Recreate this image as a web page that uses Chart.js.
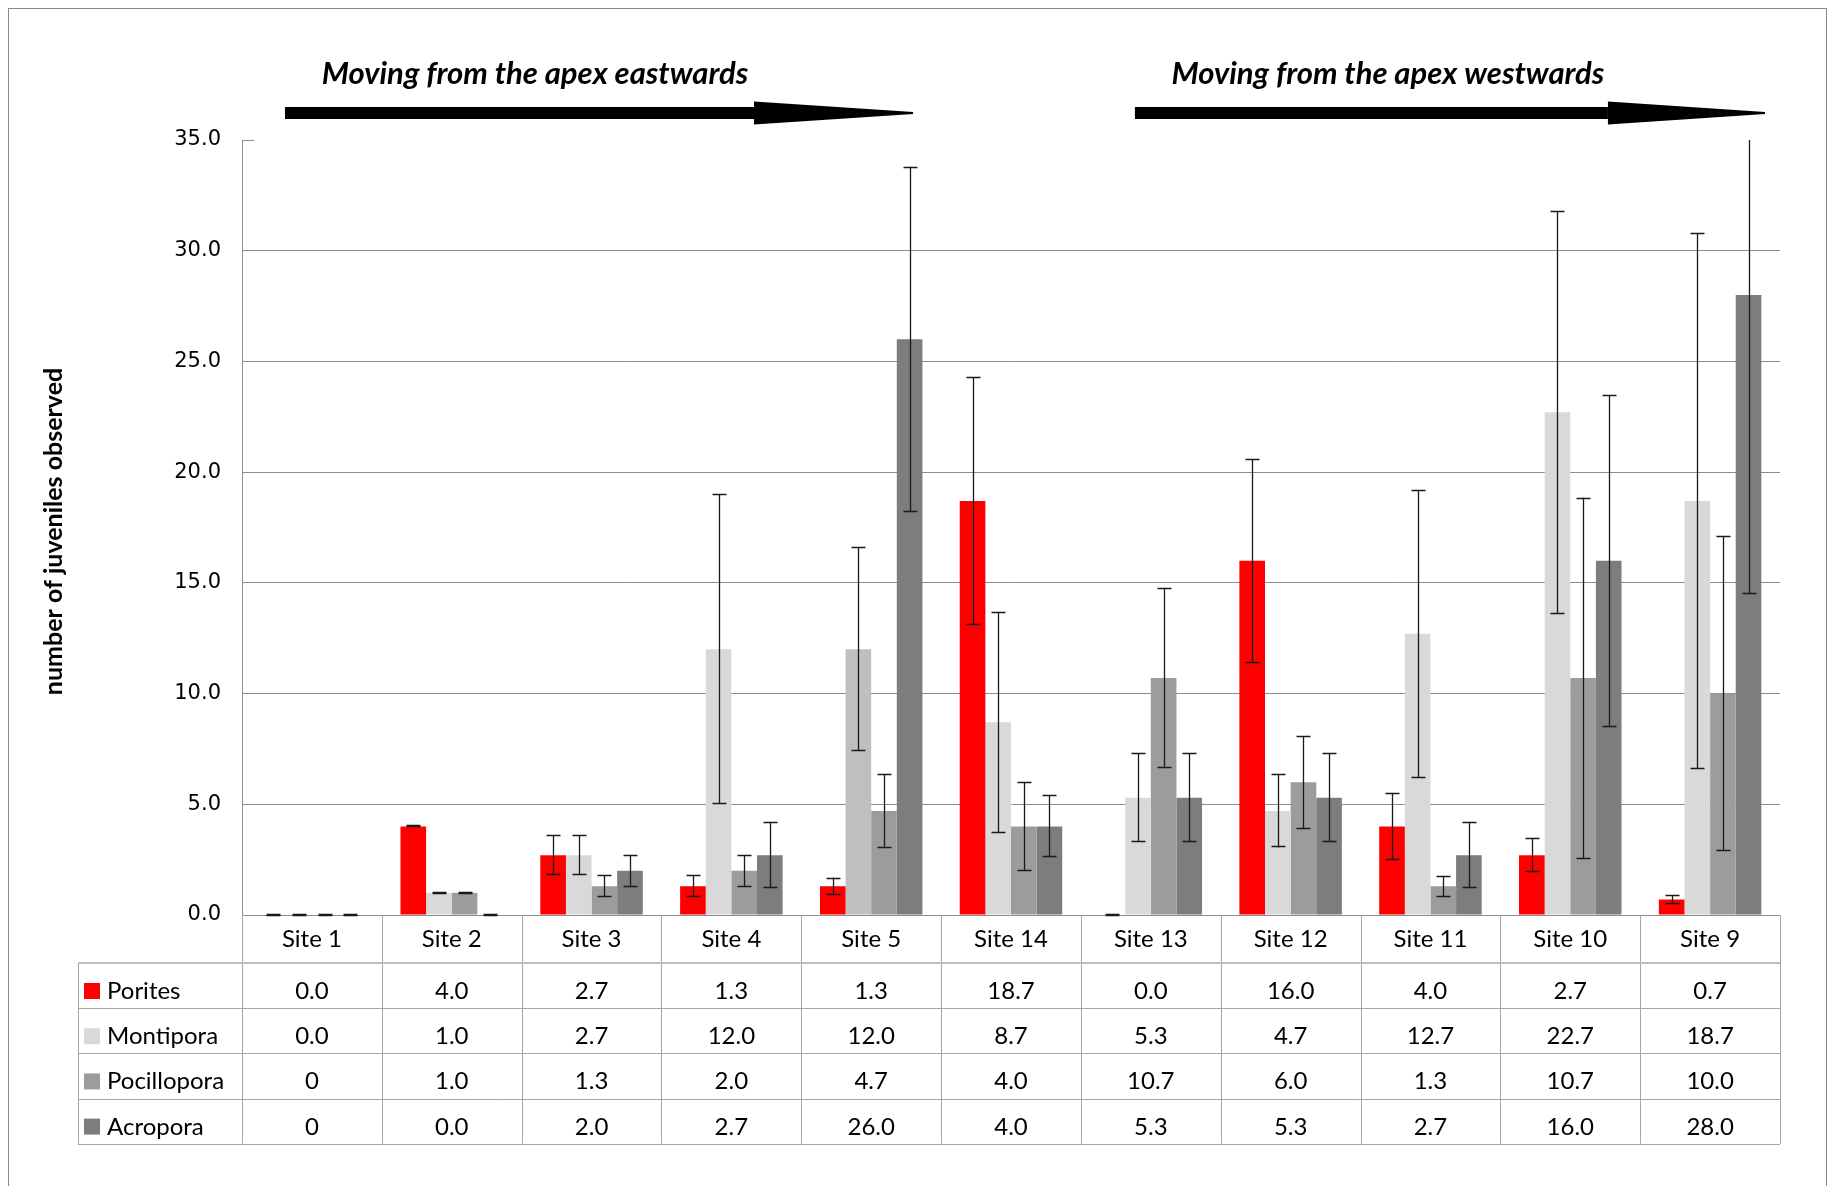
<!DOCTYPE html>
<html>
<head>
<meta charset="utf-8">
<script src="https://cdn.jsdelivr.net/npm/chart.js@4.4.0/dist/chart.umd.min.js"></script>
<style>
  html, body { margin: 0; padding: 0; background: #fff; }
  canvas { display: block; }
</style>
</head>
<body>
<canvas id="grafico" width="1832" height="1186"></canvas>
<script>
// categories (order as in the figure)
const sites = ["Site 1", "Site 2", "Site 3", "Site 4", "Site 5", "Site 14", "Site 13", "Site 12", "Site 11", "Site 10", "Site 9"];

// mean number of juveniles per genus
const porites     = [0.0, 4.0, 2.7, 1.3, 1.3, 18.7, 0.0, 16.0, 4.0, 2.7, 0.7];
const montipora   = [0.0, 1.0, 2.7, 12.0, 12.0, 8.7, 5.3, 4.7, 12.7, 22.7, 18.7];
const pocillopora = [0, 1.0, 1.3, 2.0, 4.7, 4.0, 10.7, 6.0, 1.3, 10.7, 10.0];
const acropora    = [0, 0.0, 2.0, 2.7, 26.0, 4.0, 5.3, 5.3, 2.7, 16.0, 28.0];

// error bar half-lengths
const poritesErr     = [0, 0, 0.9, 0.5, 0.39, 5.6, 0, 4.6, 1.5, 0.77, 0.19];
const montiporaErr   = [0, 0, 0.9, 7.0, 4.6, 5.0, 2.0, 1.65, 6.5, 9.1, 12.1];
const pocilloporaErr = [0, 0, 0.5, 0.72, 1.66, 2.0, 4.05, 2.1, 0.47, 8.15, 7.1];
const acroporaErr    = [0, 0, 0.72, 1.5, 7.8, 1.4, 2.0, 2.0, 1.5, 7.5, 13.5];

const genera = ["Porites", "Montipora", "Pocillopora", "Acropora"];
const cores = ["#ff0000", "#d9d9d9", "#9c9c9c", "#7d7d7d"];
// cells that the table prints as a plain "0"
const zerosSimples = [[2, 0], [3, 0]];

const yMin = 0, yMax = 35, yPasso = 5;

const series = [porites, montipora, pocillopora, acropora];
const erros = [poritesErr, montiporaErr, pocilloporaErr, acroporaErr];

// Site 5 Montipora bar is a darker grey in the original
const corMontipora = montipora.map((_, i) => i === 4 ? "#bfbfbf" : cores[1]);

function textoCelula(s, i) {
  const v = series[s][i];
  if (zerosSimples.some(([a, b]) => a === s && b === i)) return String(v);
  return v.toFixed(1);
}

const FONTE = "Lato, 'Open Sans', sans-serif";

function seta(ctx, x0, xCabeca, x1, yc) {
  ctx.fillStyle = "#000";
  ctx.fillRect(x0, yc - 6, xCabeca - x0, 12);
  ctx.beginPath();
  ctx.moveTo(xCabeca, yc - 11.5);
  ctx.lineTo(x1, yc - 1);
  ctx.lineTo(x1, yc + 1);
  ctx.lineTo(xCabeca, yc + 11.5);
  ctx.closePath();
  ctx.fill();
}

const pluginExtras = {
  id: "extras",
  beforeDraw(chart) {
    const ctx = chart.ctx;
    ctx.save();
    ctx.fillStyle = "#fff";
    ctx.fillRect(0, 0, chart.width, chart.height);
    ctx.strokeStyle = "#8a8a8a";
    ctx.lineWidth = 1;
    ctx.strokeRect(8.5, 8.5, 1818, 1300);
    ctx.restore();
  },
  afterDatasetsDraw(chart) {
    const ctx = chart.ctx;
    const y = chart.scales.y;
    const a = chart.chartArea;
    ctx.save();
    ctx.strokeStyle = "#1a1a1a";
    ctx.lineWidth = 1.3;
    series.forEach((dados, s) => {
      const meta = chart.getDatasetMeta(s);
      meta.data.forEach((barra, i) => {
        const v = dados[i], e = erros[s][i];
        const cima = v + e, baixo = Math.max(v - e, yMin);
        const cortado = cima > yMax;
        const yc = y.getPixelForValue(Math.min(cima, yMax));
        const yb = y.getPixelForValue(baixo);
        const x = Math.round(barra.x) + 0.5;
        ctx.beginPath();
        ctx.moveTo(x, cortado ? a.top : yc);
        ctx.lineTo(x, yb);
        if (!cortado) {
          ctx.moveTo(x - 7, Math.round(yc) + 0.5);
          ctx.lineTo(x + 7, Math.round(yc) + 0.5);
        }
        ctx.moveTo(x - 7, Math.round(yb) - 0.5);
        ctx.lineTo(x + 7, Math.round(yb) - 0.5);
        ctx.stroke();
      });
    });
    ctx.restore();
  },
  afterDraw(chart) {
    const ctx = chart.ctx;
    const a = chart.chartArea;
    const x = chart.scales.x;
    const y = chart.scales.y;
    const larg = (a.right - a.left) / sites.length;
    const limites = sites.map((_, i) => x.getPixelForValue(i) - larg / 2);
    limites.push(a.right);

    ctx.save();

    // small tick at the top of the axis
    ctx.strokeStyle = "#8c8c8c";
    ctx.lineWidth = 1;
    const y35 = Math.round(y.getPixelForValue(yMax)) + 0.5;
    ctx.beginPath();
    ctx.moveTo(a.left, y35);
    ctx.lineTo(a.left + 12, y35);
    ctx.stroke();

    // y axis title
    ctx.save();
    ctx.translate(54, (a.top + a.bottom) / 2 + 4);
    ctx.rotate(-Math.PI / 2);
    ctx.fillStyle = "#000";
    ctx.font = "bold 25px " + FONTE;
    ctx.textAlign = "center";
    ctx.textBaseline = "middle";
    ctx.fillText("number of juveniles observed", 0, 0);
    ctx.restore();

    // arrows and their captions
    seta(ctx, limites[0] + 43, limites[0] + 512, limites[5] - 28, 113);
    seta(ctx, limites[6] + 54, limites[6] + 527, a.right - 15, 113);
    ctx.fillStyle = "#000";
    ctx.font = "italic bold 31px " + FONTE;
    ctx.textAlign = "center";
    ctx.textBaseline = "alphabetic";
    ctx.fillText("Moving from the apex eastwards", limites[0] + 293, 84);
    ctx.fillText("Moving from the apex westwards", limites[6] + 307, 84);

    // data table under the plot
    const topoCab = a.bottom;
    const fimCab = topoCab + 48;
    const altLinha = 45.2;
    const esq = 78;
    const fimTab = fimCab + altLinha * genera.length;

    ctx.strokeStyle = "#a6a6a6";
    ctx.lineWidth = 1;
    ctx.beginPath();
    limites.forEach(xb => {
      const xx = Math.round(xb) + 0.5;
      ctx.moveTo(xx, topoCab);
      ctx.lineTo(xx, fimTab);
    });
    ctx.moveTo(esq + 0.5, fimCab);
    ctx.lineTo(esq + 0.5, fimTab);
    for (let r = 1; r <= genera.length; r++) {
      const yy = Math.round(fimCab + altLinha * r) + 0.5;
      ctx.moveTo(esq, yy);
      ctx.lineTo(a.right, yy);
    }
    ctx.stroke();
    ctx.strokeStyle = "#bdbdbd";
    ctx.lineWidth = 2;
    ctx.beginPath();
    ctx.moveTo(esq, Math.round(fimCab));
    ctx.lineTo(a.right, Math.round(fimCab));
    ctx.stroke();

    ctx.fillStyle = "#000";
    ctx.font = "24px " + FONTE;
    ctx.textAlign = "center";
    sites.forEach((nome, i) => {
      ctx.fillText(nome, x.getPixelForValue(i), topoCab + 32);
    });

    genera.forEach((g, s) => {
      const topo = fimCab + altLinha * s;
      ctx.fillStyle = cores[s];
      ctx.fillRect(84, topo + 20, 16, 16);
      ctx.fillStyle = "#000";
      ctx.textAlign = "left";
      ctx.fillText(g, 107, topo + 36);
      ctx.textAlign = "center";
      sites.forEach((_, i) => {
        ctx.fillText(textoCelula(s, i), x.getPixelForValue(i), topo + 36);
      });
    });

    ctx.restore();
  }
};

new Chart(document.getElementById("grafico").getContext("2d"), {
  type: "bar",
  data: {
    labels: sites,
    datasets: genera.map((g, s) => ({
      label: g,
      data: series[s],
      backgroundColor: s === 1 ? corMontipora : cores[s],
      borderWidth: 0,
      categoryPercentage: 0.733,
      barPercentage: 1.0
    }))
  },
  options: {
    responsive: false,
    animation: false,
    devicePixelRatio: 1,
    layout: { padding: { left: 0, top: 140, right: 52, bottom: 271 } },
    plugins: {
      legend: { display: false },
      tooltip: { enabled: false }
    },
    scales: {
      x: { display: false },
      y: {
        min: yMin,
        max: yMax,
        afterFit(escala) { escala.width = 242; },
        border: { display: true, color: "#8c8c8c", width: 1 },
        grid: {
          drawTicks: false,
          color: (c) => c.tick && c.tick.value === yMax ? "rgba(0,0,0,0)" : "#8c8c8c",
          lineWidth: 1
        },
        ticks: {
          stepSize: yPasso,
          padding: 21,
          color: "#000",
          font: { family: "'DejaVu Sans'", size: 21 },
          callback: (v) => Number(v).toFixed(1)
        }
      }
    }
  },
  plugins: [pluginExtras]
});
</script>
</body>
</html>
